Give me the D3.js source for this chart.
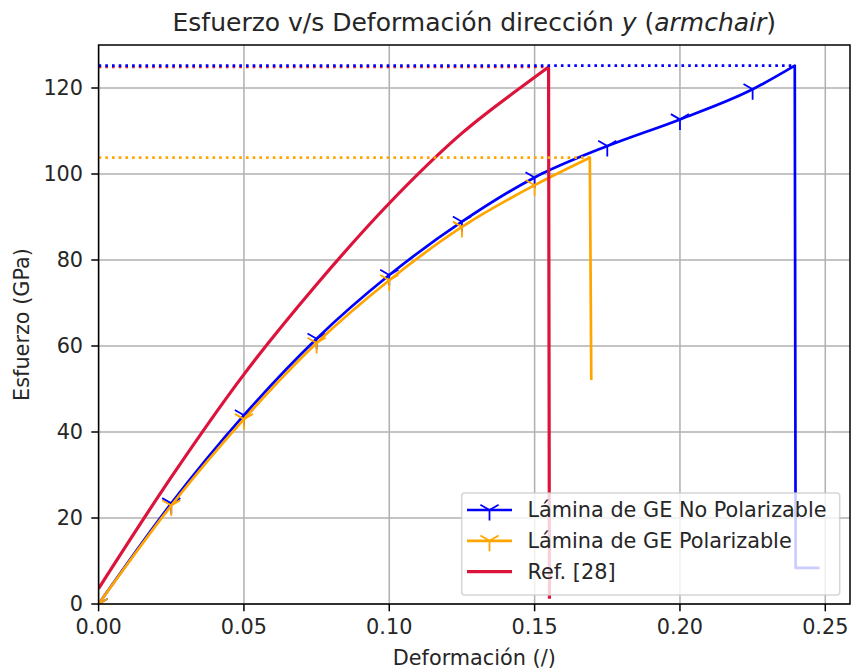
<!DOCTYPE html>
<html>
<head>
<meta charset="utf-8">
<script src="https://cdn.jsdelivr.net/npm/d3@7"></script>
<style>
  html, body { margin: 0; padding: 0; background: #fff; }
  svg { display: block; font-family: "DejaVu Sans", sans-serif; }
</style>
</head>
<body>
<svg id="chart" width="851" height="671"></svg>
<script>
// ---- Data ----
// rising part of each curve (ends at the peak), then the fracture drop
const strainNoPol = [0, 0.025, 0.05, 0.075, 0.10, 0.125, 0.15, 0.175, 0.20, 0.225, 0.2395];
const stressNoPol = [0, 23.4, 43.9, 61.7, 76.5, 88.9, 99.2, 106.5, 112.7, 119.7, 125.2];
const dropStrainNoPol = [0.2398, 0.248];
const dropStressNoPol = [8.4, 8.4];
const markersNoPol = 10; // first N points carry markers

const strainPol = [0, 0.025, 0.05, 0.075, 0.10, 0.125, 0.15, 0.169];
const stressPol = [0, 22.9, 43.0, 60.7, 75.3, 87.7, 97.4, 103.8];
const dropStrainPol = [0.1695];
const dropStressPol = [52.1];
const markersPol = 7;

const strainRef = [0, 0.025, 0.05, 0.075, 0.10, 0.125, 0.15, 0.1548];
const stressRef = [3.6, 29.5, 53.4, 74.3, 93.2, 109.5, 122.5, 124.9];
const dropStrainRef = [0.1551];
const dropStressRef = [1.2];

const xTicks = [0, 0.05, 0.10, 0.15, 0.20, 0.25];
const yTicks = [0, 20, 40, 60, 80, 100, 120];
const legendLabels = ["Lámina de GE No Polarizable", "Lámina de GE Polarizable", "Ref. [28]"];
const colors = ["#0000ff", "#ffa500", "#dc143c"];

// ---- Layout ----
const svg = d3.select("#chart");
const L = 98.6, R = 850, T = 45, B = 604;
const x = d3.scaleLinear().domain([0, 0.2585]).range([L, R]);
const y = d3.scaleLinear().domain([0, 130]).range([B, T]);
const fs = 20.8;
const txt = "#262626";

svg.append("defs").append("clipPath").attr("id", "clip")
  .append("rect").attr("x", L).attr("y", T).attr("width", R - L).attr("height", B - T);

// grid
const grid = svg.append("g");
grid.selectAll(".gx").data(xTicks).enter().append("line")
  .attr("x1", d => x(d)).attr("x2", d => x(d)).attr("y1", T).attr("y2", B)
  .attr("stroke", "#b0b0b0").attr("stroke-width", 1.5);
grid.selectAll(".gy").data(yTicks).enter().append("line")
  .attr("y1", d => y(d)).attr("y2", d => y(d)).attr("x1", L).attr("x2", R)
  .attr("stroke", "#b0b0b0").attr("stroke-width", 1.5);

// series
const plot = svg.append("g").attr("clip-path", "url(#clip)");
const curve = d3.line().x(d => x(d[0])).y(d => y(d[1])).curve(d3.curveMonotoneX);
const straight = d3.line().x(d => x(d[0])).y(d => y(d[1]));

function triDown(g, cx, cy, r, color) {
  const p = `M${cx},${cy}L${cx},${cy + r}M${cx},${cy}L${cx - 0.866 * r},${cy - 0.5 * r}M${cx},${cy}L${cx + 0.866 * r},${cy - 0.5 * r}`;
  g.append("path").attr("d", p).attr("stroke", color).attr("stroke-width", 1.8).attr("fill", "none");
}

const series = [
  { xs: strainNoPol, ys: stressNoPol, dx: dropStrainNoPol, dy: dropStressNoPol, n: markersNoPol, c: colors[0], w: 2.7 },
  { xs: strainPol, ys: stressPol, dx: dropStrainPol, dy: dropStressPol, n: markersPol, c: colors[1], w: 2.7 },
  { xs: strainRef, ys: stressRef, dx: dropStrainRef, dy: dropStressRef, n: 0, c: colors[2], w: 3.2 }
];
series.forEach(s => {
  const pts = s.xs.map((v, i) => [v, s.ys[i]]);
  const peak = pts[pts.length - 1];
  const drop = [peak].concat(s.dx.map((v, i) => [v, s.dy[i]]));
  const d = curve(pts) + straight(drop).replace(/^M/, "L");
  plot.append("path").attr("d", d).attr("fill", "none")
    .attr("stroke", s.c).attr("stroke-width", s.w).attr("stroke-linejoin", "round");
  pts.slice(0, s.n).forEach(p => triDown(plot, x(p[0]), y(p[1]), 10.5, s.c));
  s.peak = peak;
});

// dotted max lines (red first, then blue, then orange)
[series[2], series[0], series[1]].forEach(s => {
  plot.append("line").attr("x1", x(0)).attr("x2", x(s.peak[0]))
    .attr("y1", y(s.peak[1])).attr("y2", y(s.peak[1]))
    .attr("stroke", s.c).attr("stroke-width", 2.6).attr("stroke-dasharray", "2.6,4.1");
});

// spines
svg.append("rect").attr("x", L).attr("y", T).attr("width", R - L).attr("height", B - T)
  .attr("fill", "none").attr("stroke", "#000").attr("stroke-width", 1.5);

// ticks
const ax = svg.append("g");
xTicks.forEach(t => {
  ax.append("line").attr("x1", x(t)).attr("x2", x(t)).attr("y1", B).attr("y2", B + 7.3)
    .attr("stroke", "#000").attr("stroke-width", 1.5);
  ax.append("text").attr("x", x(t)).attr("y", B + 14.6).attr("dy", "0.76em")
    .attr("text-anchor", "middle").attr("font-size", fs).attr("fill", txt).text(t.toFixed(2));
});
yTicks.forEach(t => {
  ax.append("line").attr("x1", L - 7.3).attr("x2", L).attr("y1", y(t)).attr("y2", y(t))
    .attr("stroke", "#000").attr("stroke-width", 1.5);
  ax.append("text").attr("x", L - 15.5).attr("y", y(t)).attr("dy", "0.36em")
    .attr("text-anchor", "end").attr("font-size", fs).attr("fill", txt).text(t);
});

// labels
svg.append("text").attr("x", (L + R) / 2).attr("y", 665).attr("text-anchor", "middle")
  .attr("font-size", fs).attr("fill", txt).text("Deformación (/)");
svg.append("text").attr("transform", `translate(29,${(T + B) / 2}) rotate(-90)`)
  .attr("text-anchor", "middle").attr("font-size", fs).attr("fill", txt).text("Esfuerzo (GPa)");

const title = svg.append("text").attr("x", (L + R) / 2).attr("y", 31).attr("text-anchor", "middle")
  .attr("font-size", 25).attr("fill", txt);
title.append("tspan").text("Esfuerzo v/s Deformación dirección ");
title.append("tspan").attr("font-style", "italic").text("y");
title.append("tspan").text(" (");
title.append("tspan").attr("font-style", "italic").text("armchair");
title.append("tspan").text(")");

// legend
const lg = svg.append("g");
lg.append("rect").attr("x", 461.7).attr("y", 493).attr("width", 378).attr("height", 102).attr("rx", 3)
  .attr("fill", "#fff").attr("fill-opacity", 0.8).attr("stroke", "#cccccc").attr("stroke-opacity", 0.8).attr("stroke-width", 1.5);
legendLabels.forEach((lab, i) => {
  const cy = 510 + i * 30.8;
  lg.append("line").attr("x1", 467).attr("x2", 512).attr("y1", cy).attr("y2", cy)
    .attr("stroke", colors[i]).attr("stroke-width", i === 2 ? 3.2 : 2.7);
  if (i < 2) triDown(lg, 489.5, cy, 10.5, colors[i]);
  lg.append("text").attr("x", 527.5).attr("y", cy).attr("dy", "0.36em")
    .attr("font-size", fs).attr("fill", txt).text(lab);
});
</script>
</body>
</html>
